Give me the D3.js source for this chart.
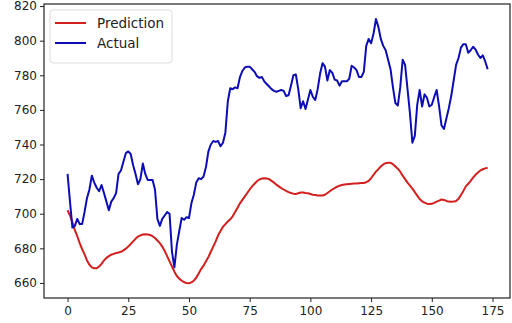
<!DOCTYPE html>
<html>
<head>
<meta charset="utf-8">
<script src="https://cdn.jsdelivr.net/npm/d3@7/dist/d3.min.js"></script>
<style>
  body { margin: 0; background: #fff; }
  svg { display: block; }
  .axis text { font-family: "DejaVu Sans", sans-serif; font-size: 12px; fill: #222; }
  .axis path, .axis line { stroke: #222; }
  .legend text { font-family: "DejaVu Sans", sans-serif; font-size: 13.5px; fill: #222; }
</style>
</head>
<body>
<div class="chart"></div>
<script>
var prediction = [
  702, 699, 695, 690.5, 687, 683, 679.5, 676.5, 673, 670.5,
  669, 668.5, 668.5, 669.5, 671, 673, 674.5, 675.5, 676.3, 676.8,
  677.3, 677.6, 678, 678.8, 679.8, 681, 682.5, 684, 685.5, 686.8,
  687.5, 688, 688.1, 688, 687.7, 687, 686, 684.5, 683, 681,
  678.5, 675.5, 672.5, 669.5, 666.5, 664, 662.5, 661.3, 660.4, 660,
  659.8, 660.3, 661.3, 663, 665.5, 668, 670, 672.5, 675, 678,
  681, 684, 687.5, 690, 692.5, 694, 695.5, 696.8, 698.5, 701,
  703.5, 706, 708, 710, 712, 714, 715.8, 717.3, 718.8, 719.8,
  720.3, 720.5, 720.3, 720, 719, 718, 716.8, 715.8, 714.8, 714,
  713.2, 712.5, 712, 711.6, 711.4, 711.8, 712.3, 712.3, 712, 711.8,
  711.4, 711, 710.8, 710.6, 710.5, 710.5, 711, 712, 713, 714,
  714.8, 715.6, 716.2, 716.6, 716.9, 717.1, 717.2, 717.3, 717.4, 717.5,
  717.6, 717.7, 717.8, 718.2, 719, 720.5, 722.5, 724.3, 725.8, 727.3,
  728.5, 729.2, 729.5, 729.4, 728.6, 727.3, 726, 724.3, 722, 720,
  718, 716.3, 714.5, 712.5, 710.5, 708.5, 707.2, 706.4, 705.8, 705.6,
  705.7, 706.3, 707, 707.6, 708.2, 708, 707.4, 707, 706.9, 707,
  707.3, 708.6, 710.8, 713.2, 715.8, 717.3, 719, 720.8, 722.5, 723.8,
  725, 725.7, 726.2, 726.6
];

var actual = [
  723, 707, 692, 693, 697, 694, 694, 701, 709, 714,
  722, 718, 715, 713, 716.6, 712, 707, 702, 707, 709,
  712, 723, 725, 730, 735, 736, 734.5, 728, 723, 717,
  720, 729, 723, 719.5, 719.5, 719.5, 714, 697, 693, 697,
  699, 701, 700, 678, 669, 682, 690, 697.5, 696.5, 698,
  697.5, 706, 711, 718, 720.5, 720, 721.5, 727, 736, 740,
  742, 741.5, 742, 739, 741, 747, 765, 772.5, 772, 773,
  772.5, 779, 782.5, 784.5, 785, 785, 783.5, 782, 779.5, 778.5,
  779, 776.5, 775, 773.5, 772, 771, 770.5, 771, 771.5, 771,
  768, 768.5, 774, 780, 780.5, 772, 761, 765, 760.5, 766,
  771.5, 767.6, 765.7, 772, 781, 787, 785, 777, 783, 781.5,
  777.5, 777, 774, 776.5, 776.5, 776.5, 778, 785.5, 784.5, 783,
  779, 779, 782, 797, 801, 798.5, 804, 812.5, 808, 801,
  797, 794.5, 789, 783.5, 773, 764, 762.5, 773, 789, 786,
  772, 758, 741, 745, 763, 771.5, 762, 769, 767, 762,
  763, 767.5, 771.5, 762, 751, 749, 755, 761, 768, 777,
  786, 790, 796, 798, 798, 793, 794.5, 796.5, 795, 792,
  790, 791.5, 788, 783.5
];

var seriesNames = ["Prediction", "Actual"];
var seriesColors = ["#d41f1f", "#0d0db5"];
var ticksX = [0, 25, 50, 75, 100, 125, 150, 175];
var ticksY = [660, 680, 700, 720, 740, 760, 780, 800, 820];

var width = 512, height = 323;
var margins = { top: 4, right: 2, bottom: 25, left: 44 };
var chartWidth = width - margins.left - margins.right;
var chartHeight = height - margins.top - margins.bottom;

var svg = d3.select("div.chart")
  .append("svg")
  .attr("width", width)
  .attr("height", height);

var chartElement = svg.append("g")
  .attr("transform", `translate(${margins.left},${margins.top})`);

var xScale = d3.scaleLinear()
  .domain([-9.7, 182.2])
  .range([0, chartWidth]);

var yScale = d3.scaleLinear()
  .domain([651.3, 821.2])
  .range([chartHeight, 0]);

var xAxis = d3.axisBottom(xScale)
  .tickValues(ticksX)
  .tickSizeOuter(0)
  .tickSize(4)
  .tickPadding(4);

var yAxis = d3.axisLeft(yScale)
  .tickValues(ticksY)
  .tickSizeOuter(0)
  .tickSize(4)
  .tickPadding(3);

chartElement.append("g")
  .attr("class", "x axis")
  .attr("transform", `translate(0,${chartHeight})`)
  .call(xAxis)
  .call(g => g.select(".domain").remove());

chartElement.append("g")
  .attr("class", "y axis")
  .call(yAxis)
  .call(g => g.select(".domain").remove());

// lines
var line = d3.line()
  .x((d, i) => xScale(i))
  .y(d => yScale(d));

[prediction, actual].forEach(function(values, k) {
  chartElement.append("path")
    .datum(values)
    .attr("fill", "none")
    .attr("stroke", seriesColors[k])
    .attr("stroke-width", 2)
    .attr("stroke-linejoin", "round")
    .attr("d", line);
});

// frame
chartElement.append("rect")
  .attr("x", 0)
  .attr("y", 0)
  .attr("width", chartWidth)
  .attr("height", chartHeight)
  .attr("fill", "none")
  .attr("stroke", "#222")
  .attr("stroke-width", 1.2);

// legend
var legend = chartElement.append("g")
  .attr("class", "legend")
  .attr("transform", "translate(6,6)");

legend.append("rect")
  .attr("width", 122)
  .attr("height", 53)
  .attr("rx", 3)
  .attr("fill", "#fff")
  .attr("fill-opacity", 0.8)
  .attr("stroke", "#ddd");

seriesNames.forEach(function(name, k) {
  var yPos = 13 + k * 20;
  legend.append("line")
    .attr("x1", 5)
    .attr("x2", 36)
    .attr("y1", yPos)
    .attr("y2", yPos)
    .attr("stroke", seriesColors[k])
    .attr("stroke-width", 2);
  legend.append("text")
    .attr("x", 47)
    .attr("y", yPos)
    .attr("dy", "0.35em")
    .text(name);
});
</script>
</body>
</html>
